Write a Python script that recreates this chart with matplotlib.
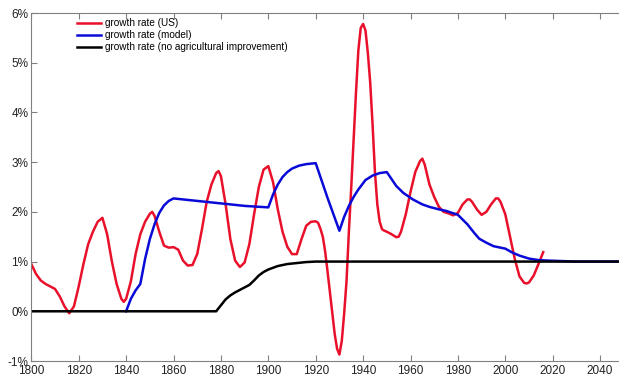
import numpy as np
import matplotlib.pyplot as plt
from matplotlib.ticker import FuncFormatter

plt.rcParams['font.family'] = ['Liberation Sans', 'DejaVu Sans']

# growth rate (US), in percent
us_year = [1800, 1802, 1804, 1806, 1808, 1810, 1812, 1814, 1816, 1818,
           1820, 1822, 1824, 1826, 1828, 1830, 1832, 1834, 1836, 1838,
           1839, 1840, 1842, 1844, 1846, 1848, 1850, 1851, 1852, 1854,
           1856, 1858, 1860, 1862, 1864, 1866, 1868, 1870, 1872, 1874,
           1876, 1878, 1879, 1880, 1882, 1884, 1886, 1888, 1890, 1892,
           1894, 1896, 1898, 1900, 1902, 1904, 1906, 1908, 1910, 1912,
           1914, 1916, 1918, 1920, 1921, 1922, 1923, 1924, 1925, 1926,
           1927, 1928, 1929, 1930, 1931, 1932, 1933, 1934, 1935, 1936,
           1937, 1938, 1939, 1940, 1941, 1942, 1943, 1944, 1945, 1946,
           1947, 1948, 1949, 1950, 1952, 1954, 1955, 1956, 1958, 1960,
           1962, 1964, 1965, 1966, 1968, 1970, 1972, 1974, 1976, 1978,
           1980, 1982, 1984, 1985, 1986, 1988, 1990, 1992, 1994, 1996,
           1997, 1998, 2000, 2002, 2004, 2006, 2008, 2009, 2010, 2012,
           2014, 2016]
us_rate = [0.95, 0.75, 0.62, 0.55, 0.50, 0.45, 0.30, 0.10, -0.04, 0.10,
           0.50, 0.95, 1.35, 1.60, 1.80, 1.88, 1.55, 1.00, 0.55, 0.25,
           0.19, 0.25, 0.60, 1.15, 1.55, 1.80, 1.96, 2.00, 1.92, 1.60,
           1.32, 1.28, 1.29, 1.24, 1.02, 0.92, 0.93, 1.15, 1.65, 2.20,
           2.55, 2.78, 2.82, 2.72, 2.15, 1.45, 1.02, 0.89, 0.98, 1.35,
           1.95, 2.50, 2.85, 2.92, 2.60, 2.05, 1.60, 1.30, 1.15, 1.15,
           1.45, 1.72, 1.80, 1.81, 1.78, 1.66, 1.50, 1.20, 0.80, 0.38,
           -0.05, -0.45, -0.75, -0.87, -0.60, -0.05, 0.60, 1.60, 2.50, 3.45,
           4.40, 5.25, 5.70, 5.78, 5.65, 5.20, 4.60, 3.75, 2.80, 2.15,
           1.80, 1.65, 1.62, 1.60, 1.55, 1.49, 1.50, 1.60, 1.95, 2.40,
           2.80, 3.02, 3.07, 2.95, 2.55, 2.30, 2.10, 2.00, 1.97, 1.93,
           1.98, 2.15, 2.25, 2.25, 2.20, 2.05, 1.94, 2.00, 2.15, 2.27,
           2.27, 2.20, 1.95, 1.50, 1.05, 0.70, 0.57, 0.56, 0.58, 0.72,
           0.95, 1.19]

# growth rate (model)
model_year = [1840, 1842, 1844, 1846, 1847, 1848, 1850, 1852, 1854, 1856,
              1858, 1860, 1870, 1880, 1890, 1900, 1902, 1904, 1906, 1908,
              1910, 1913, 1916, 1920, 1925, 1930, 1932, 1934, 1936, 1938,
              1941, 1944, 1947, 1950, 1954, 1957, 1961, 1965, 1968, 1972,
              1975, 1980, 1984, 1987, 1989, 1992, 1995, 2000, 2003, 2006,
              2010, 2014, 2018, 2024, 2030, 2050]
model_rate = [0.00, 0.25, 0.42, 0.55, 0.80, 1.05, 1.45, 1.75, 1.98, 2.13,
              2.22, 2.27, 2.22, 2.17, 2.12, 2.09, 2.35, 2.55, 2.70, 2.80,
              2.87, 2.93, 2.96, 2.98, 2.28, 1.62, 1.90, 2.12, 2.30, 2.45,
              2.64, 2.73, 2.78, 2.80, 2.52, 2.38, 2.25, 2.15, 2.10, 2.05,
              2.02, 1.94, 1.75, 1.57, 1.46, 1.38, 1.31, 1.26, 1.18, 1.12,
              1.06, 1.03, 1.02, 1.01, 1.00, 1.00]

# growth rate (no agricultural improvement)
noag_year = [1800, 1878, 1880, 1882, 1884, 1886, 1888, 1890, 1892, 1894,
             1896, 1898, 1900, 1904, 1908, 1912, 1916, 1920, 2050]
noag_rate = [0.00, 0.00, 0.12, 0.24, 0.32, 0.38, 0.43, 0.48, 0.53, 0.62,
             0.72, 0.79, 0.84, 0.91, 0.95, 0.97, 0.99, 1.00, 1.00]

fig = plt.figure(figsize=(6.19, 3.77), dpi=100)
ax = fig.add_axes([31.3 / 619, 16 / 377, 592.5 / 619, 348 / 377])

ax.plot(us_year, us_rate, color='#e8102a', lw=1.8, label='growth rate (US)')
ax.plot(model_year, model_rate, color='#0a0ad8', lw=1.8, label='growth rate (model)')
ax.plot(noag_year, noag_rate, color='black', lw=1.8,
        label='growth rate (no agricultural improvement)')

ax.set_xlim(1800, 2050)
ax.set_ylim(-1, 6)
ax.set_xticks(np.arange(1800, 2041, 20))
ax.set_yticks(np.arange(-1, 7, 1))
ax.yaxis.set_major_formatter(FuncFormatter(lambda v, p: '%d%%' % v))

for s in ['left', 'bottom', 'top']:
    ax.spines[s].set_color('#808080')
    ax.spines[s].set_linewidth(0.8)
ax.spines['right'].set_visible(False)
ax.tick_params(direction='in', length=4, width=0.8, color='#808080',
               labelsize=8.5, labelcolor='#222222', top=True, pad=2)
ax.tick_params(axis='x', pad=3)

ax.legend(loc='upper left', bbox_to_anchor=(0.077, 0.985), frameon=False,
          fontsize=7.2, borderpad=0, borderaxespad=0, handlelength=2.4,
          handletextpad=0.4, labelspacing=0.2)

fig.savefig('out.png', dpi=100)
